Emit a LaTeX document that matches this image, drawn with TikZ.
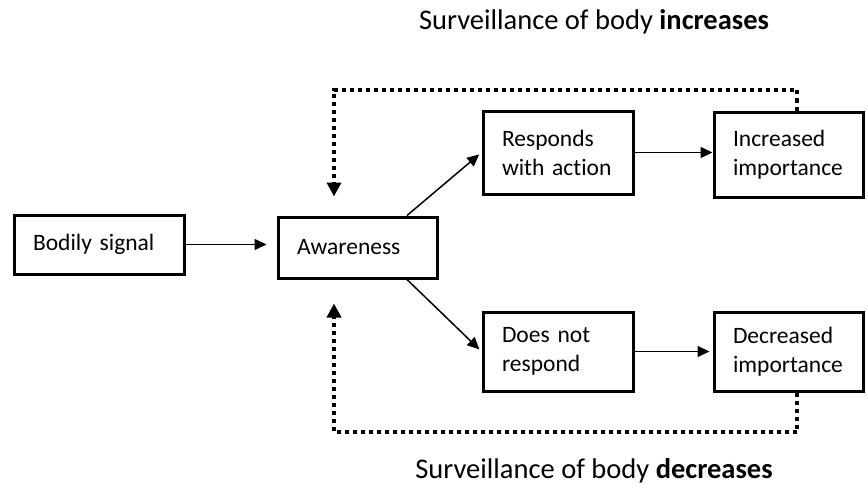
\documentclass[tikz,border=0pt]{standalone}
\usepackage{fontspec}
\setmainfont{Carlito}[Ligatures={NoCommon}]
\usetikzlibrary{arrows.meta,positioning,calc}
\begin{document}
\begin{tikzpicture}[x=1pt,y=-1pt,
  box/.style={draw, line width=3pt, inner xsep=19pt, inner ysep=0pt, align=left,
    font=\fontsize{23.5}{29}\selectfont, anchor=center},
  arr/.style={line width=1.5pt, -{Triangle[length=12pt,width=11pt]}},
  dotarr/.style={line width=3.5pt, dash pattern=on 4pt off 4pt,
    -{Triangle[length=14pt,width=14pt]}},
  lab/.style={font=\fontsize{28.5}{34}\selectfont, anchor=base}]
\useasboundingbox (0,0) rectangle (868,495);
\node[box, text width=132pt, minimum height=59pt] (bod) at (99,244.5) {Bodily signal};
\node[box, text width=121pt, minimum height=61pt] (aw) at (357.5,247.5) {Awareness};
\node[box, text width=112pt, minimum height=83pt] (resp) at (558,152.5) {Responds\\with action};
\node[box, text width=111pt, minimum height=85pt] (inc) at (788.5,154.5) {Increased\\importance};
\node[box, text width=112pt, minimum height=79pt] (dnr) at (558,351.5) {Does not\\respond};
\node[box, text width=111pt, minimum height=79pt] (dec) at (788.5,351.5) {Decreased\\importance};
\node[lab] (top) at (594,30) {Surveillance of body \textbf{increases}};
\node[lab] (bot) at (594,478) {Surveillance of body \textbf{decreases}};
\coordinate (tl) at (334,90);
\coordinate (bl) at (334,432);
\draw[arr, shorten >=10pt] (bod.east) -- (bod.east -| aw.west);
\draw[arr, shorten >=3pt] ([xshift=49.5pt]aw.north) -- (resp.west);
\draw[arr, shorten >=3pt] ([xshift=49.5pt]aw.south) -- (dnr.west);
\draw[arr] (resp.east) -- (resp.east -| inc.west);
\draw[arr, shorten >=3pt] (dnr.east) -- (dnr.east -| dec.west);
\draw[dotarr, shorten >=19pt] ([xshift=8.5pt]inc.north) |- (tl) -- (tl |- aw.north);
\draw[dotarr, shorten >=24pt] ([xshift=8.5pt]dec.south) |- (bl) -- (bl |- aw.south);
\end{tikzpicture}
\end{document}
